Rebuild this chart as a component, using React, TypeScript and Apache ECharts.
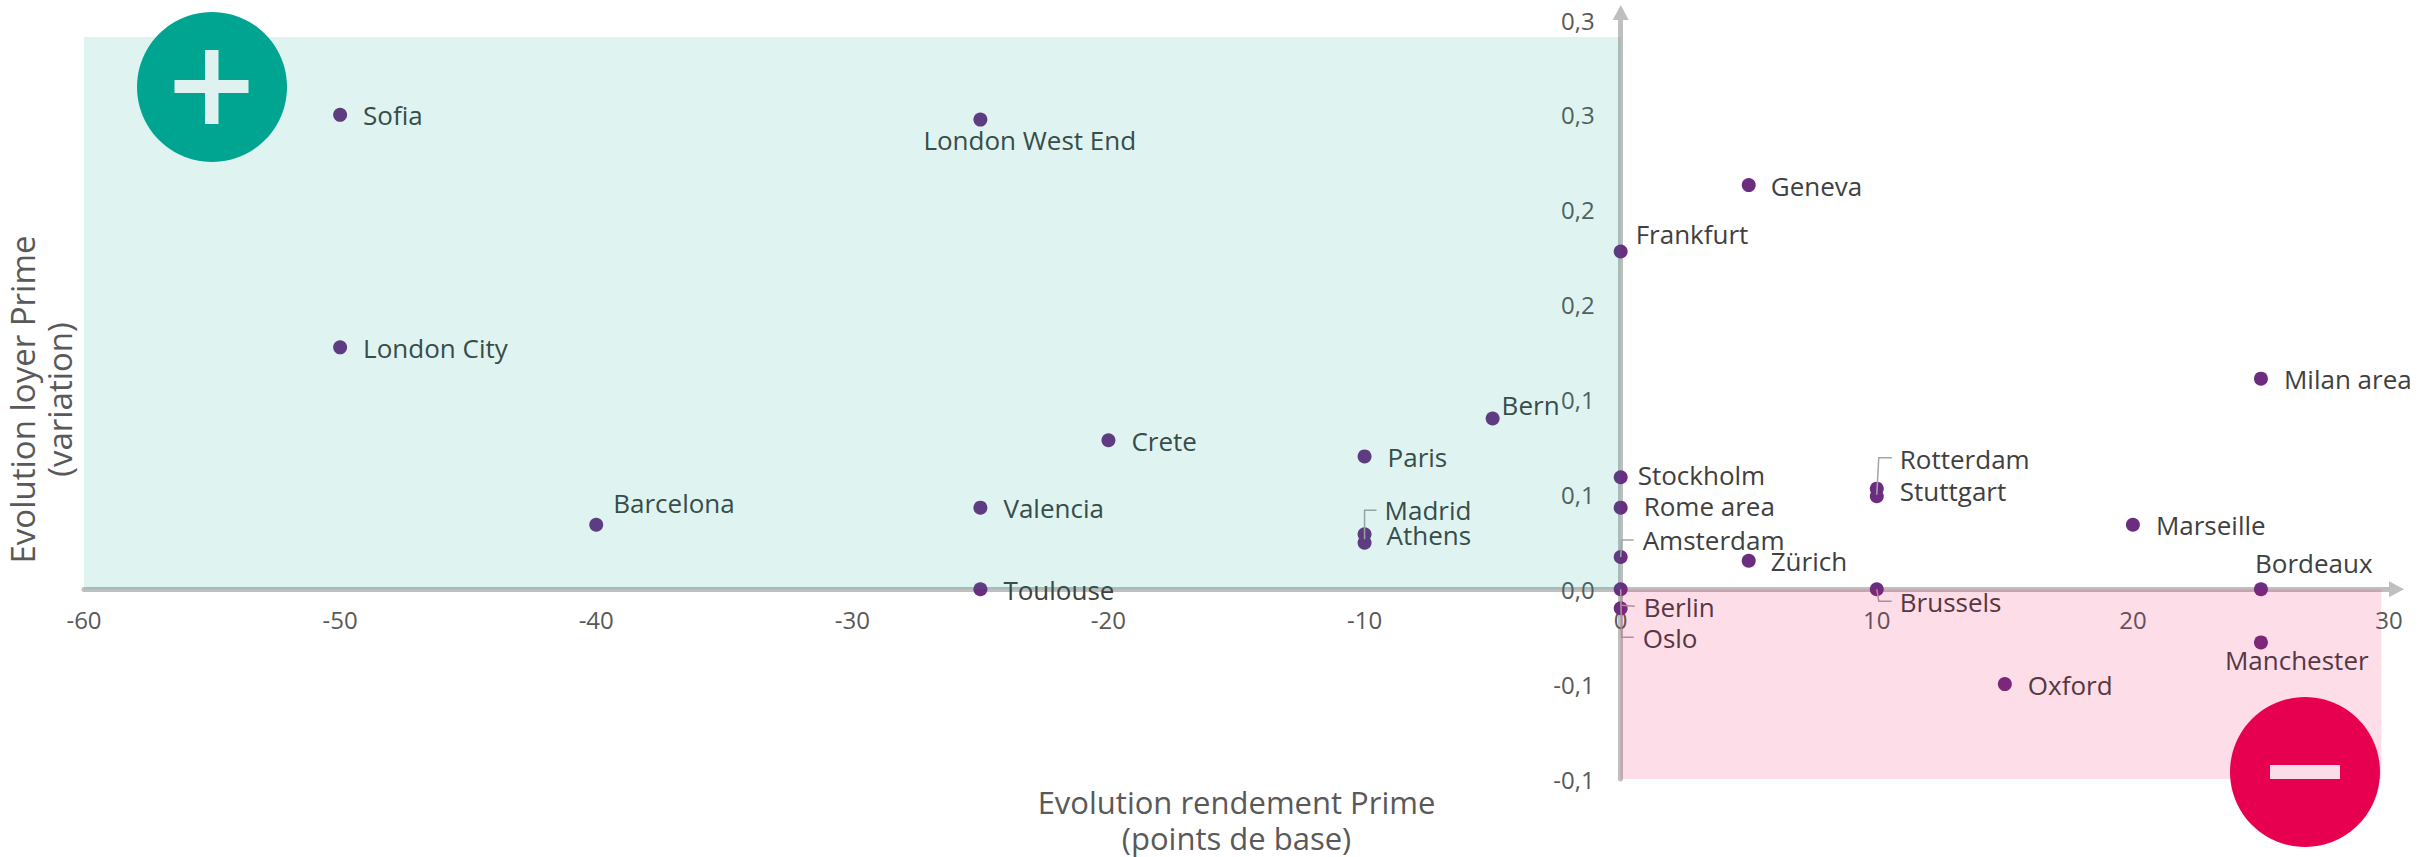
import React, { useEffect, useRef } from "react";
import * as echarts from "echarts";

const FONT = "Open Sans";
const cities = ["Sofia","London West End","Geneva","Frankfurt","London City","Milan area","Bern","Crete","Paris","Stockholm","Rotterdam","Stuttgart","Rome area","Valencia","Barcelona","Marseille","Madrid","Athens","Amsterdam","Zürich","Toulouse","Bordeaux","Brussels","Oslo","Berlin","Manchester","Oxford"];
const yieldChange = [-50,-25,5,0,-50,25,-5,-20,-10,0,10,10,0,-25,-40,20,-10,-10,0,5,-25,25,10,0,0,25,15];
const rentChange = [0.25,0.2475,0.213,0.178,0.1275,0.111,0.09,0.0785,0.07,0.059,0.053,0.049,0.043,0.043,0.034,0.034,0.029,0.0245,0.017,0.015,0,0,0,0,-0.01,-0.028,-0.05];
const xTitle = "Evolution rendement Prime\n(points de base)";
const yTitle = "Evolution loyer Prime\n(variation)";

// Label placement relative to each dot, in pixels
const labelOffsets: Record<string, [number, number]> = {
  Sofia:[23,2],"London West End":[-57,22],Geneva:[22,2],Frankfurt:[15,-16],"London City":[23,2],"Milan area":[23,2],Bern:[9,-12],Crete:[23,2],Paris:[23,2],Stockholm:[17,-1],Rotterdam:[23,-28],Stuttgart:[23,-4],"Rome area":[23,0],Valencia:[23,2],Barcelona:[17,-20],Marseille:[23,2],Madrid:[20,-23],Athens:[22,-6],Amsterdam:[22,-15],"Zürich":[22,2],Toulouse:[23,2],Bordeaux:[-6,-25],Brussels:[23,14],Oslo:[22,50],Berlin:[23,0],Manchester:[-36,19],Oxford:[23,2],
};
// Elbow leader lines, pixel offsets from the dot
const leaders: Record<string, [number, number][]> = {
  Madrid:[[0,5],[0,-24],[12,-24]],
  Rotterdam:[[0,6],[2,-31],[15,-31]],
  Amsterdam:[[0,0],[1,-17],[13,-17]],
  Brussels:[[0,0],[2,12],[15,12]],
  Oslo:[[0,0],[1,48],[13,48]],
  Berlin:[[1,-3],[14,-2]],
};

const fmtY = (v: number) => {
  const r = Math.round(Math.abs(v) * 10 + 1e-6) / 10;
  return (v < -1e-9 ? "-" : "") + r.toFixed(1).replace(".", ",");
};

export default function App() {
  const ref = useRef<HTMLDivElement>(null);
  useEffect(() => {
    document.body.style.margin = "0";
    const chart = echarts.init(ref.current!, undefined, { renderer: "svg" });
    const axisLineStyle = { color: "#bfbfbf", width: 5 };
    chart.setOption({
      animation: false,
      backgroundColor: "#fff",
      textStyle: { fontFamily: FONT },
      grid: { left: 84, right: 43, top: 20, bottom: 78, outerBoundsMode: "none", containLabel: false },
      xAxis: {
        type: "value", min: -60, max: 30, interval: 10, position: "bottom", offset: -189.75,
        splitLine: { show: false }, axisTick: { show: false },
        axisLine: { show: true, onZero: false, lineStyle: axisLineStyle, symbol: ["none", "triangle"], symbolSize: [16, 15], symbolOffset: [0, 7.5] },
        axisLabel: { color: "#595959", fontSize: 24, fontFamily: FONT, margin: 18 },
        name: xTitle, nameLocation: "middle", nameGap: 195,
        nameTextStyle: { color: "#595959", fontSize: 31, fontFamily: FONT, lineHeight: 36 },
      },
      yAxis: {
        type: "value", min: -0.1, max: 0.3, interval: 0.05, position: "left", offset: -1536.7,
        splitLine: { show: false }, axisTick: { show: false },
        axisLine: { show: true, onZero: false, lineStyle: axisLineStyle, symbol: ["none", "triangle"], symbolSize: [16, 15], symbolOffset: [0, 7.5] },
        axisLabel: { color: "#595959", fontSize: 24, fontFamily: FONT, margin: 26, formatter: fmtY },
        name: yTitle, nameLocation: "middle", nameGap: 1543, nameRotate: 90,
        nameTextStyle: { color: "#595959", fontSize: 33, fontFamily: FONT, lineHeight: 37 },
      },
      series: [
        {
          type: "scatter",
          symbol: "circle",
          symbolSize: 14,
          silent: true,
          z: 3,
          itemStyle: { color: "#6c2d80", opacity: 1 },
          data: cities.map((name, i) => ({
            name,
            value: [yieldChange[i], rentChange[i]],
            label: {
              show: true,
              position: "right",
              distance: 0,
              offset: [labelOffsets[name][0] - 7, labelOffsets[name][1] - 1.5],
              formatter: name,
              color: "#404040",
              fontSize: 26,
              fontFamily: FONT,
            },
          })),
          markArea: {
            silent: true,
            z: 10,
            label: { show: false },
            data: [
              [{ coord: [-60, 0.291], itemStyle: { color: "rgba(0,165,145,0.125)" } }, { coord: [0, 0] }],
              [{ coord: [0, 0], itemStyle: { color: "rgba(230,0,80,0.135)" } }, { coord: [29.7, -0.1] }],
            ],
          },
        },
        {
          type: "custom",
          silent: true,
          z: 4,
          coordinateSystem: "cartesian2d",
          data: Object.keys(leaders).map((n) => {
            const i = cities.indexOf(n);
            return { name: n, value: [yieldChange[i], rentChange[i]] };
          }),
          renderItem: (params: any, api: any) => {
            const p = api.coord([api.value(0), api.value(1)]);
            const offs = leaders[Object.keys(leaders)[params.dataIndex]];
            return {
              type: "polyline",
              shape: { points: offs.map((o) => [p[0] + o[0], p[1] + o[1]]) },
              style: { fill: "none", stroke: "#a6a6a6", lineWidth: 1.5 },
            };
          },
        },
      ],
      graphic: [
        { type: "circle", z: 50, shape: { cx: 212, cy: 87, r: 75 }, style: { fill: "#00a591" } },
        { type: "rect", z: 51, shape: { x: 174.5, y: 80, width: 74, height: 13 }, style: { fill: "#dff2ef" } },
        { type: "rect", z: 51, shape: { x: 205, y: 50, width: 13.5, height: 74 }, style: { fill: "#dff2ef" } },
        { type: "circle", z: 50, shape: { cx: 2305, cy: 772, r: 75 }, style: { fill: "#e6004f" } },
        { type: "rect", z: 51, shape: { x: 2270, y: 765, width: 70, height: 14 }, style: { fill: "#fadde8" } },
      ],
    });
    return () => chart.dispose();
  }, []);
  return <div ref={ref} style={{ width: 2432, height: 857 }} />;
}
